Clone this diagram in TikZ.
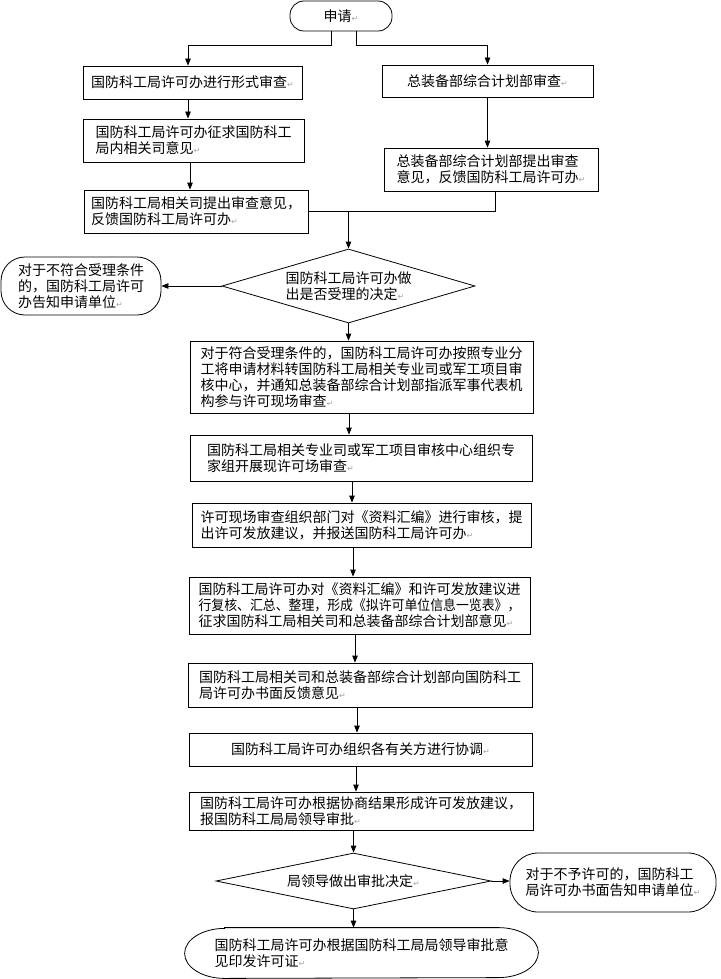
\documentclass[tikz,border=0pt]{standalone}
\usepackage{fontspec}
\usepackage{graphicx}
\setmainfont{Noto Sans CJK SC}
\newfontfamily\dejavu{DejaVu Sans}
\usetikzlibrary{shapes.geometric,arrows.meta,calc}
\newcommand\cjksz{\fontsize{14}{16}\selectfont}
\newcommand\retmk{{\dejavu\fontsize{8}{8}\selectfont\textcolor{gray!70}{↵}}}
\tikzset{
  base/.style={draw, line width=0.8pt, align=left, inner sep=2pt, font=\cjksz},
  box/.style={base, rectangle},
  rbox/.style={base, rectangle, rounded corners=#1},
  dia/.style={base, diamond, inner sep=0pt},
  arr/.style={line width=0.8pt, -{Triangle[length=7pt,width=5.5pt]}},
  ln/.style={line width=0.8pt},
}
\begin{document}
\begin{tikzpicture}[x=1pt,y=-1pt]
\fill[white] (0,0) rectangle (720,979);
\useasboundingbox (0,0) rectangle (720,979);

\node[rbox=14pt, minimum width=102pt, minimum height=30pt] (start) at (341,16) {申请\retmk};

\node[box, minimum width=219pt, minimum height=33pt] (A1) at (192.5,82.5) {国防科工局许可办进行形式审查\retmk};
\node[box, minimum width=221pt, minimum height=43pt] (A2) at (193.5,140.5) {国防科工局许可办征求国防科工\\局内相关司意见\retmk};
\node[box, minimum width=224pt, minimum height=43pt] (A3) at (196,211.5) {国防科工局相关司提出审查意见，\\反馈国防科工局许可办\retmk};

\node[box, minimum width=211pt, minimum height=32pt] (B1) at (487.5,81) {总装备部综合计划部审查\retmk};
\node[box, minimum width=214pt, minimum height=43pt] (B2) at (491,169.5) {总装备部综合计划部提出审查\\意见，反馈国防科工局许可办\retmk};

\node[dia, aspect=3.4, minimum width=253pt, minimum height=74pt] (D1) at (348.5,286) {国防科工局许可办做\\出是否受理的决定\retmk};
\node[rbox=24pt, minimum width=160pt, minimum height=58pt] (L) at (81,286) {对于不符合受理条件\\的，国防科工局许可\\办告知申请单位\retmk};

\node[box, minimum width=343pt, minimum height=72pt] (C1) at (361.5,377) {对于符合受理条件的，国防科工局许可办按照专业分\\工将申请材料转国防科工局相关专业司或军工项目审\\核中心，并通知总装备部综合计划部指派军事代表机\\构参与许可现场审查\retmk};
\node[box, minimum width=342pt, minimum height=46pt] (C2) at (361,458) {国防科工局相关专业司或军工项目审核中心组织专\\家组开展现许可场审查\retmk};
\node[box, minimum width=339pt, minimum height=44pt] (C3) at (361.5,525) {许可现场审查组织部门对《资料汇编》进行审核，提\\出许可发放建议，并报送国防科工局许可办\retmk};
\node[box, minimum width=341pt, minimum height=57pt] (C4) at (359.5,605.5) {国防科工局许可办对《资料汇编》和许可发放建议进\\\scalebox{0.92}[1]{行复核、汇总、整理，形成《拟许可单位信息一览表》，}\\征求国防科工局相关司和总装备部综合计划部意见\retmk};
\node[box, minimum width=344pt, minimum height=44pt] (C5) at (360,685) {国防科工局相关司和总装备部综合计划部向国防科工\\局许可办书面反馈意见\retmk};
\node[box, minimum width=343pt, minimum height=33pt] (C6) at (360.5,749.5) {国防科工局许可办组织各有关方进行协调\retmk};
\node[box, minimum width=344pt, minimum height=38pt] (C7) at (361,811) {国防科工局许可办根据协商结果形成许可发放建议，\\报国防科工局局领导审批\retmk};

\node[dia, aspect=4.9, minimum width=275pt, minimum height=56pt] (D2) at (353.5,881) {局领导做出审批决定\retmk};
\node[rbox=28pt, minimum width=206pt, minimum height=59pt] (R) at (613,882.5) {对于不予许可的，国防科工\\局许可办书面告知申请单位\retmk};

\node[base, draw=none, rectangle, minimum width=353pt, minimum height=50pt] (E) at (361.5,953) {国防科工局许可办根据国防科工局局领导审批意\\见印发许可证\retmk};
\draw[ln] ([xshift=40pt]E.north west) -- ([xshift=-40pt]E.north east)
  arc[start angle=90, end angle=-90, x radius=40pt, y radius=25pt]
  -- ([xshift=40pt]E.south west)
  arc[start angle=270, end angle=90, x radius=40pt, y radius=25pt] -- cycle;

% connectors
\draw[arr] ([xshift=-10pt]start.south) -- ++(0,14) -| ([xshift=-4.5pt]A1.north);
\draw[arr] ([xshift=15pt]start.south) -- ++(0,14) -| (B1.north);

\coordinate (a1s) at ([xshift=-4.5pt]A1.south);
\draw[arr] (a1s) -- (a1s |- A2.north);
\coordinate (a2s) at ([xshift=-3.5pt]A2.south);
\draw[arr] (a2s) -- (a2s |- A3.north);
\draw[arr] (B1.south) -- (B1.south |- B2.north);

\coordinate (b2s) at ([xshift=4pt]B2.south);
\draw[ln] (b2s) |- (A3.east);
\draw[arr] (A3.east -| D1.north) -- (D1.north);

\draw[arr] (D1.west) -- (L.east);
\draw[arr] (D1.south) -- (D1.south |- C1.north);

\coordinate (c1s) at ([xshift=-12.5pt]C1.south);
\draw[arr] (c1s) -- (c1s |- C2.north);
\coordinate (c2s) at ([xshift=-9pt]C2.south);
\draw[arr] (c2s) -- (c2s |- C3.north);
\coordinate (c3s) at ([xshift=-8.5pt]C3.south);
\draw[arr] (c3s) -- (c3s |- C4.north);
\coordinate (c4s) at ([xshift=-4.5pt]C4.south);
\draw[arr] (c4s) -- (c4s |- C5.north);
\coordinate (c5s) at ([xshift=-3pt]C5.south);
\draw[arr] (c5s) -- (c5s |- C6.north);
\coordinate (c6s) at ([xshift=-4.5pt]C6.south);
\draw[arr] (c6s) -- (c6s |- C7.north);
\draw[arr] (D2.north |- C7.south) -- (D2.north);

\draw[arr] (D2.east) -- (D2.east -| R.west);
\draw[arr] (D2.south) -- (D2.south |- E.north);
\end{tikzpicture}
\end{document}
